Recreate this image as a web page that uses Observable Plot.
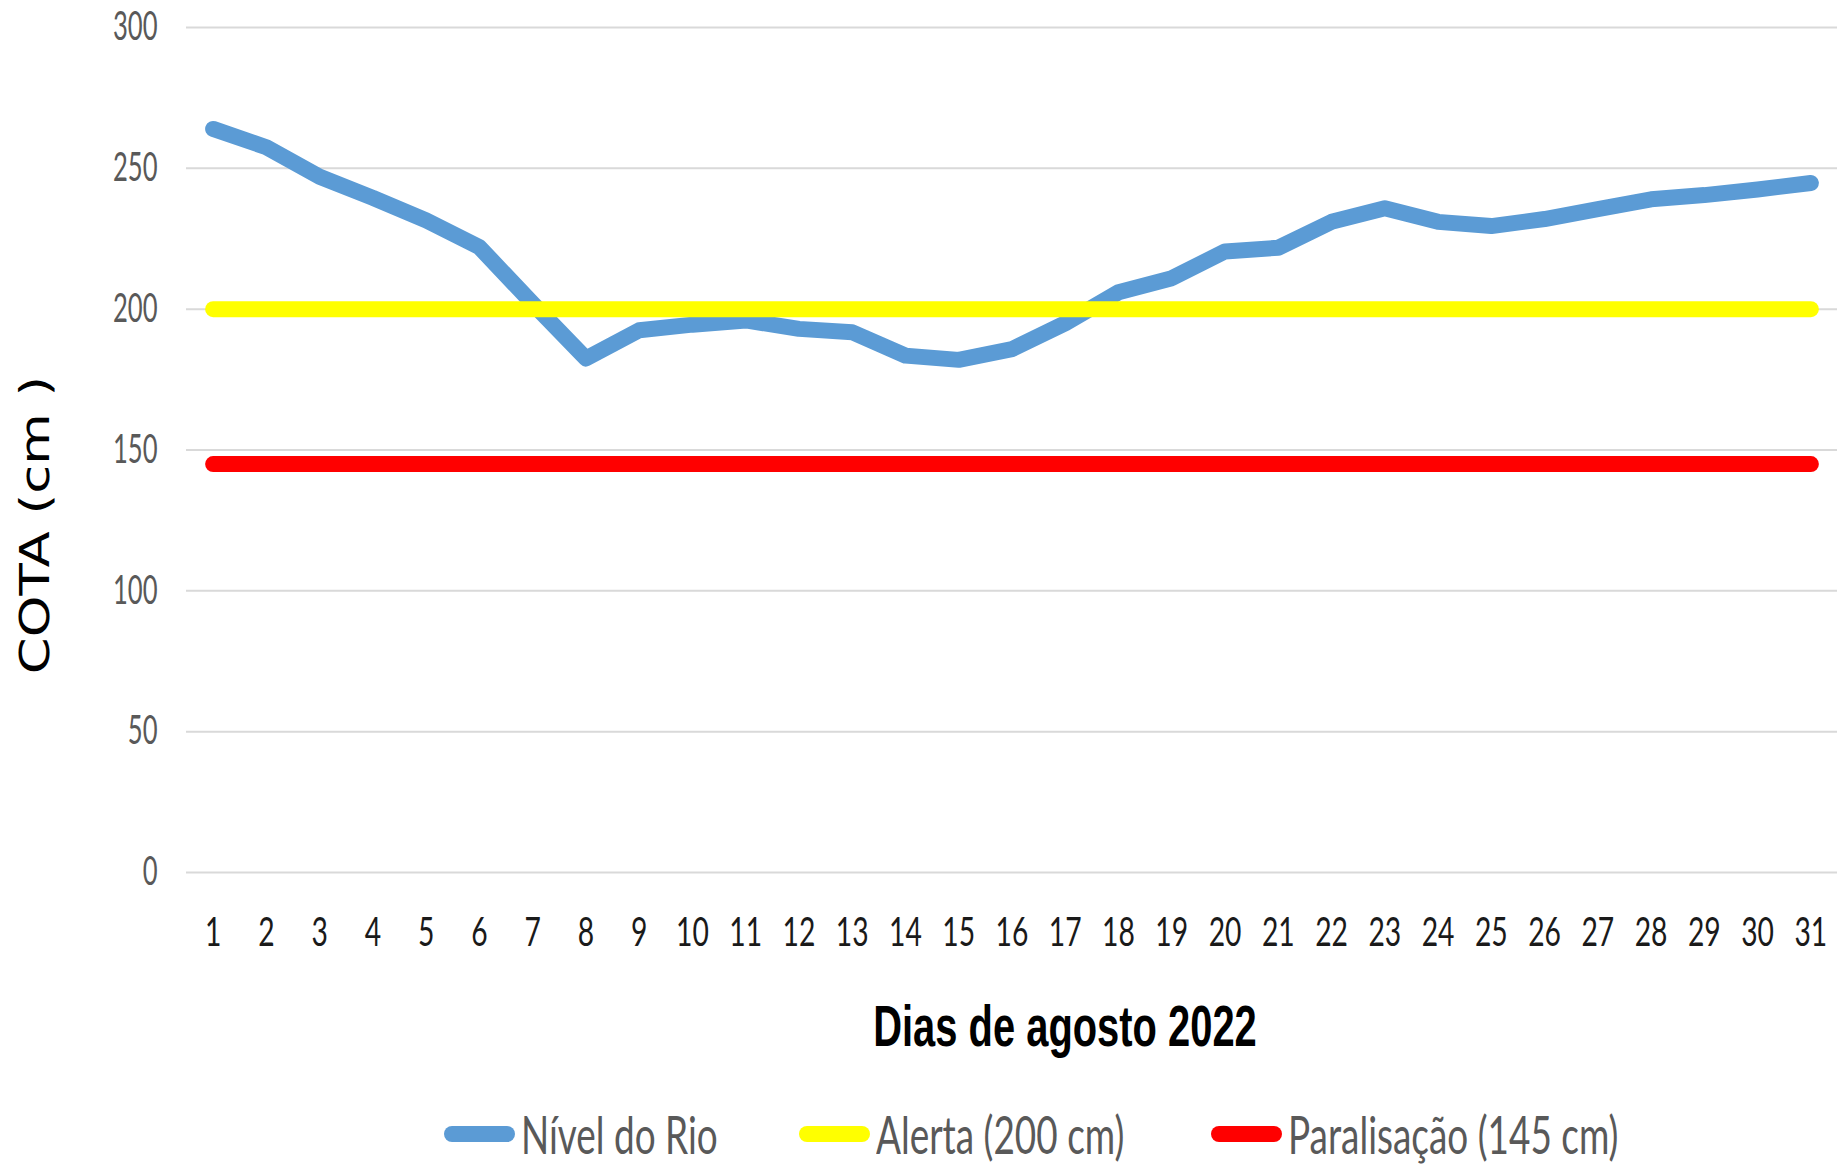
<!DOCTYPE html>
<html>
<head>
<meta charset="utf-8">
<script src="https://cdn.jsdelivr.net/npm/d3@7"></script>
<script src="https://cdn.jsdelivr.net/npm/@observablehq/plot@0.6"></script>
<style>
  html, body { margin: 0; padding: 0; background: #fff; }
  #chart { width: 1843px; }
  .legend { position: relative; width: 1843px; height: 84px; margin-top: 12px; font-family: Lato, sans-serif; font-size: 52px; color: #595959; }
  .item { position: absolute; top: 0; height: 84px; display: flex; align-items: center; }
  .sw { width: 71px; height: 16px; border-radius: 8px; margin-right: 6px; flex: none; }
  .lbl { display: inline-block; transform: scaleX(0.71); transform-origin: left center; white-space: nowrap; line-height: 1; }
</style>
</head>
<body>
<div id="chart"></div>
<script>
const days = [1,2,3,4,5,6,7,8,9,10,11,12,13,14,15,16,17,18,19,20,21,22,23,24,25,26,27,28,29,30,31];
const nivelRio = [264,257.5,247,239.5,231.5,222,202,182.5,192.5,194.5,196,193,191.8,183.5,182,185.8,195,206,211,220.5,221.8,231,235.8,231,229.5,232,235.5,239,240.5,242.5,244.8];
const alertaLevel = 200;
const paralisacaoLevel = 145;
const yTicks = [0,50,100,150,200,250,300];
const seriesNames = ["Nível do Rio", "Alerta (200 cm)", "Paralisação (145 cm)"];
const seriesColors = ["#5B9BD5", "#FFFF00", "#FF0000"];
const xTitle = "Dias de agosto 2022";
const yTitle = "COTA (cm )";

const rows = days.map((d, i) => ({day: d, nivel: nivelRio[i], alerta: alertaLevel, paral: paralisacaoLevel}));
const lineOpts = {x: "day", strokeWidth: 16, strokeLinecap: "round", strokeLinejoin: "round"};

const chart = Plot.plot({
  width: 1843,
  height: 1080,
  marginTop: 27,
  marginBottom: 208,
  marginLeft: 186,
  marginRight: 6,
  style: {background: "white", fontFamily: "Lato, sans-serif"},
  x: {type: "linear", domain: [0.5, 31.5], label: null},
  y: {domain: [0, 300], label: null},
  marks: [
    Plot.ruleY(yTicks, {stroke: "#d9d9d9", strokeWidth: 2}),
    Plot.axisY({ticks: yTicks, tickSize: 0, tickPadding: 29, fontSize: 40, fill: "#595959", fontFamily: "Lato, sans-serif", label: null}),
    Plot.axisX({ticks: days, tickFormat: d => String(d), tickSize: 0, tickPadding: 44, fontSize: 41, fill: "#1a1a1a", fontFamily: "Lato, sans-serif", label: null}),
    Plot.line(rows, {...lineOpts, y: "nivel", stroke: seriesColors[0]}),
    Plot.line(rows, {...lineOpts, y: "alerta", stroke: seriesColors[1]}),
    Plot.line(rows, {...lineOpts, y: "paral", stroke: seriesColors[2]}),
    Plot.text([xTitle], {text: d => d, frameAnchor: "bottom", textAnchor: "middle", dx: 53, dy: 173, fontSize: 57, fontWeight: "bold", fill: "#000", fontFamily: "'Liberation Sans', Arial, sans-serif"}),
    Plot.text([yTitle], {text: d => d, frameAnchor: "left", textAnchor: "middle", rotate: -90, dx: -151, dy: 75, fontSize: 41, fill: "#000", fontFamily: "'DejaVu Sans', sans-serif"})
  ]
});
document.getElementById("chart").appendChild(chart);

// Glyph proportions of the reference: narrow, tall lettering.
function squeeze(sel, sx, sy) {
  sel.each(function() {
    const xa = this.getAttribute("x"), ya = this.getAttribute("y");
    let tx = 0, ty = 0;
    if (xa !== null && !/em$/.test(xa)) { tx = +xa || 0; this.setAttribute("x", 0); }
    if (ya !== null && !/em$/.test(ya)) { ty = +ya || 0; this.setAttribute("y", 0); }
    const t = this.getAttribute("transform") || "";
    this.setAttribute("transform", `${t} translate(${tx},${ty}) scale(${sx},${sy})`);
  });
}
const svg = d3.select(chart);
squeeze(svg.selectAll('g[aria-label="y-axis tick label"] text'), 0.64, 1);
squeeze(svg.selectAll('g[aria-label="x-axis tick label"] text'), 0.69, 1);
squeeze(svg.selectAll("text").filter(function() { return this.textContent === xTitle; }), 0.70, 1);
squeeze(svg.selectAll("text").filter(function() { return this.textContent === yTitle; }), 1.29, 1);

const legend = document.createElement("div");
legend.className = "legend";
const itemLeft = [444, 799, 1211];
seriesNames.forEach((name, i) => {
  const item = document.createElement("div");
  item.className = "item";
  item.style.left = itemLeft[i] + "px";
  const sw = document.createElement("div");
  sw.className = "sw";
  sw.style.background = seriesColors[i];
  const t = document.createElement("span");
  t.className = "lbl";
  t.textContent = name;
  item.appendChild(sw);
  item.appendChild(t);
  legend.appendChild(item);
});
document.body.appendChild(legend);
</script>
</body>
</html>
